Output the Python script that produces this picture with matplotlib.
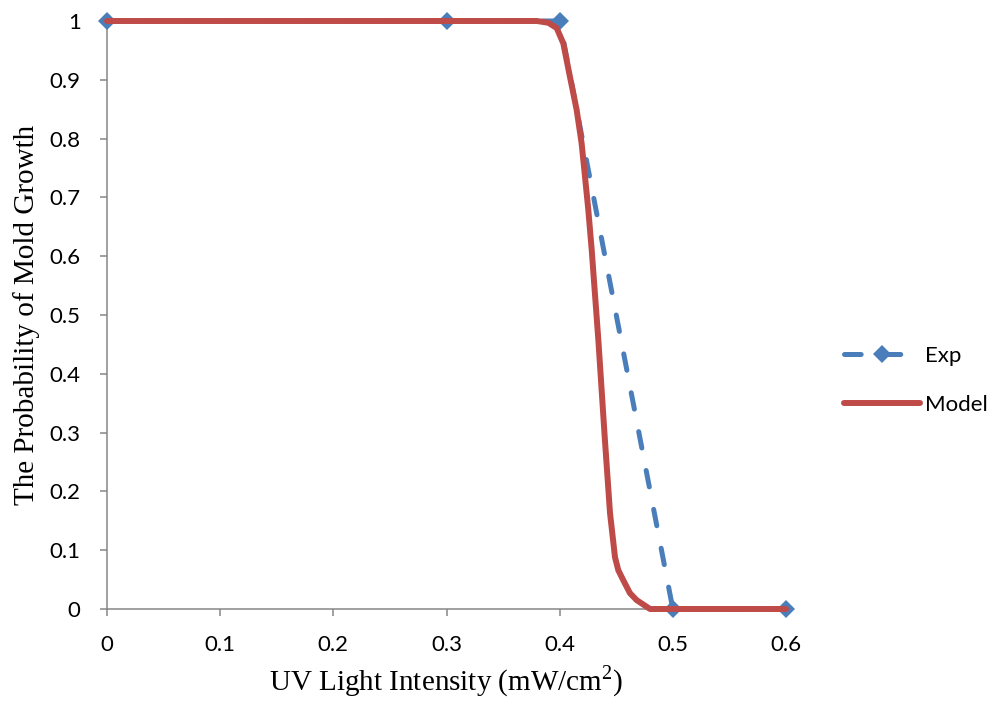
import matplotlib
matplotlib.use("Agg")
import matplotlib.pyplot as plt

# Experimental observations
exp_x = [0.0, 0.3, 0.4, 0.5, 0.6]
exp_y = [1.0, 1.0, 1.0, 0.0, 0.0]

# Model prediction
model_x = [0.0, 0.1, 0.2, 0.3, 0.38, 0.39, 0.3974, 0.4032, 0.4091, 0.415,
           0.4194, 0.4224, 0.4253, 0.4283, 0.4342, 0.44, 0.4445, 0.4489,
           0.4518, 0.4562, 0.4621, 0.4681, 0.4799, 0.5, 0.6]
model_y = [1.0, 1.0, 1.0, 1.0, 1.0, 0.997, 0.988, 0.962, 0.905, 0.849,
           0.792, 0.735, 0.679, 0.611, 0.457, 0.287, 0.163, 0.088,
           0.066, 0.049, 0.027, 0.015, 0.0, 0.0, 0.0]

x_ticks = [0, 0.1, 0.2, 0.3, 0.4, 0.5, 0.6]
x_tick_labels = ["0", "0.1", "0.2", "0.3", "0.4", "0.5", "0.6"]
y_ticks = [0, 0.1, 0.2, 0.3, 0.4, 0.5, 0.6, 0.7, 0.8, 0.9, 1.0]
y_tick_labels = ["0", "0.1", "0.2", "0.3", "0.4", "0.5", "0.6", "0.7", "0.8", "0.9", "1"]

plt.rcParams["lines.scale_dashes"] = False
plt.rcParams["mathtext.fontset"] = "custom"
plt.rcParams["mathtext.rm"] = "Liberation Serif"

BLUE = "#4A7EBB"
RED = "#BE4B48"
AXIS = "#868686"
TICK_FONT = "Lato"
LABEL_FONT = "Liberation Serif"

fig = plt.figure(figsize=(9.96, 7.04), dpi=100)
ax = fig.add_axes([107 / 996, 95 / 704, 679 / 996, 588 / 704])

ax.plot(exp_x, exp_y, color=BLUE, lw=3.6, dashes=(12, 16.5),
        dash_capstyle="round", marker="D", ms=9.5, mew=0,
        clip_on=False, zorder=3, label="Exp")
ax.plot(model_x, model_y, color=RED, lw=4.3, solid_capstyle="round",
        solid_joinstyle="round", clip_on=False, zorder=4, label="Model")

ax.set_xlim(0, 0.6)
ax.set_ylim(0, 1)
ax.set_xticks(x_ticks)
ax.set_xticklabels(x_tick_labels)
ax.set_yticks(y_ticks)
ax.set_yticklabels(y_tick_labels)

for side in ("top", "right"):
    ax.spines[side].set_visible(False)
for side in ("left", "bottom"):
    ax.spines[side].set_color(AXIS)
    ax.spines[side].set_linewidth(1.1)

ax.tick_params(axis="both", direction="out", length=5, width=1.1,
               color=AXIS, pad=14, labelsize=16, labelcolor="black")
for lbl in ax.get_xticklabels() + ax.get_yticklabels():
    lbl.set_fontfamily(TICK_FONT)

ax.set_xlabel(r"UV Light Intensity (mW/cm$^{\mathrm{2}}$)",
              fontfamily=LABEL_FONT, fontsize=21, labelpad=6)
ax.set_ylabel("The Probability of Mold Growth",
              fontfamily=LABEL_FONT, fontsize=21, labelpad=7)

leg = fig.legend(loc="center left", bbox_to_anchor=(844 / 996, 0.46),
                 frameon=False, handlelength=3.4, handletextpad=0.25,
                 labelspacing=1.3, borderpad=0, borderaxespad=0,
                 prop={"family": TICK_FONT, "size": 16})

fig.savefig("out.png", dpi=100)
